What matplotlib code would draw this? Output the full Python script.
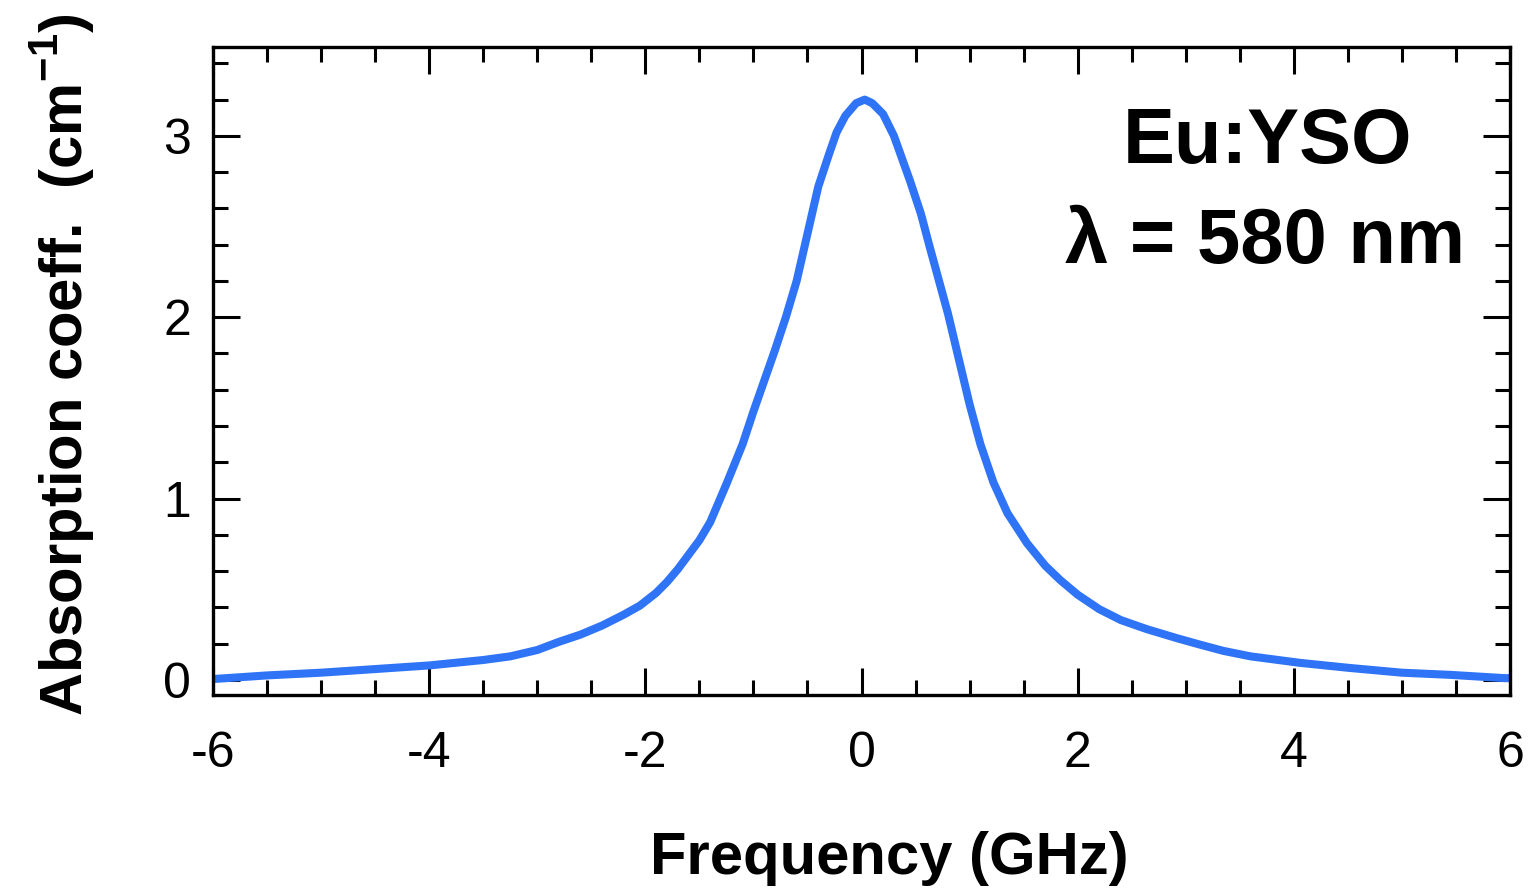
import numpy as np
import matplotlib
matplotlib.use("Agg")
import matplotlib.pyplot as plt
from matplotlib.ticker import MultipleLocator

# Absorption line
freq_ghz = [-6.0, -5.5, -5.0, -4.5, -4.0, -3.5, -3.25, -3.0, -2.8, -2.6, -2.4, -2.2,
            -2.05, -1.9, -1.8, -1.7, -1.6, -1.5, -1.4, -1.25, -1.1, -1.0, -0.9, -0.8,
            -0.7, -0.6, -0.5, -0.4, -0.3, -0.23, -0.15, -0.05, 0.03, 0.1, 0.2, 0.3,
            0.45, 0.55, 0.63, 0.8, 0.9, 1.0, 1.1, 1.22, 1.35, 1.53, 1.7, 1.84, 2.0,
            2.2, 2.4, 2.64, 2.92, 3.13, 3.35, 3.6, 4.06, 4.52, 5.0, 5.45, 5.95, 6.0]
absorption = [0.005, 0.025, 0.04, 0.06, 0.08, 0.11, 0.13, 0.165, 0.21, 0.25, 0.30, 0.36,
              0.41, 0.48, 0.54, 0.61, 0.69, 0.77, 0.87, 1.08, 1.30, 1.48, 1.65, 1.82,
              2.00, 2.20, 2.46, 2.72, 2.90, 3.02, 3.11, 3.18, 3.20, 3.18, 3.12, 3.00,
              2.75, 2.57, 2.39, 2.02, 1.77, 1.52, 1.30, 1.09, 0.92, 0.755, 0.63, 0.55, 0.47,
              0.39, 0.33, 0.28, 0.23, 0.195, 0.16, 0.13, 0.094, 0.066, 0.04, 0.028, 0.01, 0.01]

xticks = [-6, -4, -2, 0, 2, 4, 6]
yticks = [0, 1, 2, 3]

plt.rcParams['font.family'] = ['Liberation Sans', 'DejaVu Sans']
plt.rcParams['axes.unicode_minus'] = False
plt.rcParams['mathtext.fontset'] = 'custom'
plt.rcParams['mathtext.rm'] = 'Liberation Sans'
plt.rcParams['mathtext.bf'] = 'Liberation Sans:bold'

fig = plt.figure(figsize=(15.31, 8.90), dpi=100)
ax = fig.add_axes([213 / 1531, 195 / 890, 1297 / 1531, 648 / 890])

ax.plot(freq_ghz, absorption, color="#2f74f6", lw=5.8, solid_capstyle="round",
        solid_joinstyle="round")

ax.set_xlim(-6, 6)
ax.set_ylim(-0.083, 3.49)
ax.set_xticks(xticks)
ax.set_yticks(yticks)
ax.xaxis.set_minor_locator(MultipleLocator(0.5))
ax.yaxis.set_minor_locator(MultipleLocator(0.2))
ax.tick_params(which="both", direction="in", top=True, right=True, width=2.2,
               labelsize=36, colors="black")
ax.tick_params(which="major", length=19.5)
ax.tick_params(which="minor", length=10.5)
ax.tick_params(axis="x", which="major", pad=26)
ax.tick_params(axis="y", which="major", pad=16)
for s in ax.spines.values():
    s.set_linewidth(2.4)

fig.text(889 / 1531, 32 / 890, "Frequency (GHz)", ha="center", va="center",
         fontsize=43, fontweight="bold")
fig.text(63 / 1531, 525 / 890, r"Absorption coeff.  (cm$^{\mathbf{-1}}$)", ha="center",
         va="center", rotation=90, fontsize=43, fontweight="bold")
fig.text(1267 / 1531, (890 - 143) / 890, "Eu:YSO", ha="center", va="center",
         fontsize=56, fontweight="bold")
fig.text(1265 / 1531, (890 - 243) / 890, "λ = 580 nm", ha="center", va="center",
         fontsize=56, fontweight="bold")

fig.savefig("out.png", dpi=100)
